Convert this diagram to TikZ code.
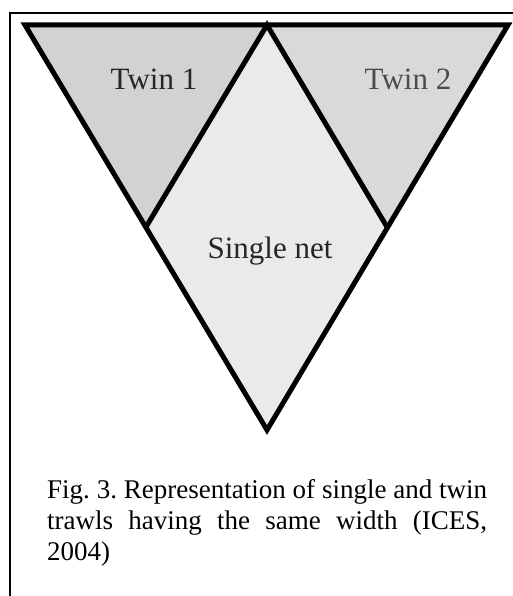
\documentclass[tikz,border=0pt]{standalone}
\usepackage{fontspec}
\setmainfont{Liberation Serif}
\definecolor{twinfill}{HTML}{D2D2D2}
\definecolor{twinfillb}{HTML}{D9D9D9}
\definecolor{singlefill}{HTML}{EAEAEA}

\begin{document}
\begin{tikzpicture}[x=1pt,y=-1pt,
    net/.style={draw=black,line width=5pt,line join=miter},
    frameline/.style={draw=black,line width=2pt},
    label/.style={anchor=base,inner sep=0pt,font=\fontsize{31}{36}\selectfont}]
  \useasboundingbox (0,0) rectangle (513,596);

  % corner points of the trawl triangle
  \coordinate (tl) at (25,25);
  \coordinate (tm) at (267,25);
  \coordinate (tr) at (508,25);
  \coordinate (ml) at (146,227);
  \coordinate (mr) at (387,227);
  \coordinate (bot) at (267,430);

  % frame of the figure box
  \draw[frameline] (513,13) -- (10,13) -- (10,596);

  % nets
  \fill[twinfill] (tl) -- (tm) -- (ml) -- cycle;
  \fill[twinfillb] (tm) -- (tr) -- (mr) -- cycle;
  \fill[singlefill] (tm) -- (mr) -- (bot) -- (ml) -- cycle;
  \draw[net] (tl) -- (tr) -- (bot) -- cycle;
  \draw[net] (ml) -- (tm) -- (mr);

  \node[label,text=black!85] (twinone) at (154,90) {Twin 1};
  \node[label,text=black!70] (twintwo) at (408,90) {Twin 2};
  \node[label,text=black!85] (single) at (270,258) {Single net};

  % caption
  \node[anchor=base west,inner sep=0pt,text width=440pt,align=left,
    font=\fontsize{27}{31}\selectfont] (caption) at (47,498)
    {\spaceskip=0pt\xspaceskip=0pt\frenchspacing
     \makebox[440pt][s]{Fig. 3. Representation of single and twin}\\
     \makebox[440pt][s]{trawls having the same width (ICES,}\\
     2004)};
\end{tikzpicture}
\end{document}
